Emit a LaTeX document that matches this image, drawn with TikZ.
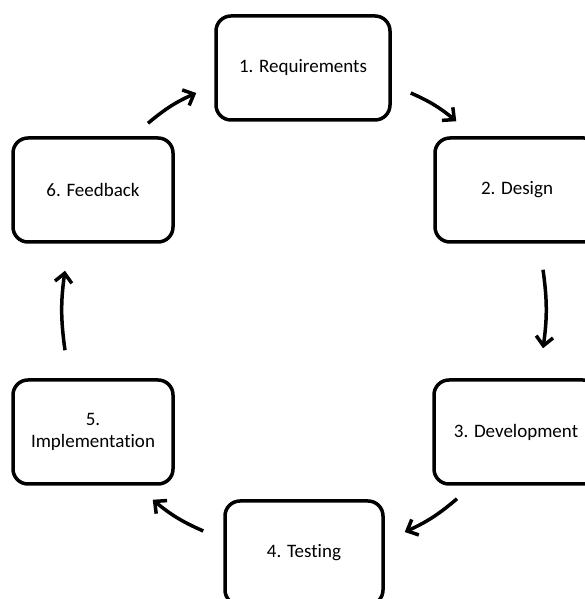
\documentclass[tikz,border=0pt]{standalone}
\usepackage{fontspec}
\setmainfont[Ligatures=NoCommon]{Carlito}
\usetikzlibrary{arrows.meta}

\begin{document}
\begin{tikzpicture}[
  x=1pt, y=1pt,
  stage/.style={draw=black, rectangle, rounded corners=15pt, line width=3.5pt, minimum width=160pt, minimum height=104pt, align=center, font=\fontsize{19}{22}\selectfont},
  flow/.style={->, line width=3.5pt, bend left=8},
  >={Straight Barb[length=9pt, width=17pt]}
]
\clip (0,0) rectangle (585,599);

\node[stage, minimum width=174pt] (req) at (303,531) {1. Requirements};
\node[stage, minimum width=164pt] (des) at (517,409) {2. Design};
\node[stage, minimum width=164pt] (dev) at (516,167) {3. Development};
\node[stage, minimum width=158pt] (test) at (304,46) {4. Testing};
\node[stage] (impl) at (93,167) {5.\\Implementation};
\node[stage] (feed) at (93,409) {6. Feedback};

\draw[flow] ([shift={(19,-25)}]req.east) to ([shift={(23,15)}]des.north west);
\draw[flow] ([shift={(26,-26)}]des.south) to ([shift={(27,30)}]dev.north);
\draw[flow] ([shift={(-59,-13)}]dev.south) to ([shift={(20,21)}]test.east);
\draw[flow] ([shift={(-20,22)}]test.west) to ([shift={(-22,-14)}]impl.south east);
\draw[flow] ([shift={(-28,28)}]impl.north) to ([shift={(-28,-27)}]feed.south);
\draw[flow] ([shift={(55,13)}]feed.north) to ([shift={(-18,-25)}]req.west);
\end{tikzpicture}
\end{document}
